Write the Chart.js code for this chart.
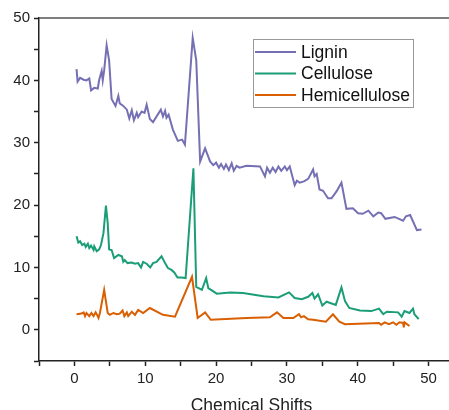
<!DOCTYPE html>
<html>
<head>
<meta charset="utf-8">
<script src="https://cdn.jsdelivr.net/npm/chart.js@4"></script>
<style>
  html, body { margin: 0; padding: 0; overflow: hidden; background: #fff; }
  canvas { display: block; }
</style>
</head>
<body>
<canvas id="chart" width="470" height="425"></canvas>
<script>
const ligninShift = [0.3, 0.45, 0.8, 1.3, 1.7, 2.1, 2.35, 2.8, 3.3, 3.5, 3.85, 4.0, 4.2, 4.55, 4.9, 5.25, 5.8, 6.2, 6.4, 6.9,
  7.4, 7.75, 8.1, 8.4, 8.8, 9.0, 9.5, 9.9, 10.2, 10.65, 11.1, 12.2, 12.5, 12.8, 13.0, 13.3, 13.9, 14.6, 15.2, 15.6,
  16.7, 17.2, 17.75, 18.45, 19.15, 19.6, 20.0, 20.4, 20.7, 21.1, 21.4, 21.8, 22.2, 22.5, 22.9, 23.3, 24.3, 26.2, 26.9, 27.2,
  27.6, 28.0, 28.4, 28.8, 29.2, 29.7, 30.0, 30.4, 31.1, 31.4, 31.8, 32.4, 33.0, 33.7, 33.9, 34.2, 34.6, 35.1, 35.8, 36.3,
  37.0, 37.7, 38.4, 39.3, 40.05, 40.7, 41.5, 42.2, 42.9, 43.3, 43.9, 45.2, 46.4, 46.8, 47.4, 48.35, 49.0];
const ligninValue = [41.8, 39.8, 40.4, 40.1, 40.0, 40.3, 38.4, 38.8, 38.7, 40.1, 41.5, 40.0, 41.6, 45.6, 43.2, 37.0, 35.9, 37.5, 36.3, 35.9,
  35.3, 33.9, 35.2, 33.6, 34.8, 34.1, 35.0, 34.8, 36.1, 33.8, 33.3, 35.3, 34.2, 35.1, 34.0, 34.5, 32.1, 30.3, 30.5, 29.7,
  46.8, 43.2, 27.0, 29.1, 27.0, 26.4, 26.8, 26.0, 26.6, 25.8, 26.5, 25.6, 26.7, 25.5, 26.3, 26.0, 26.3, 26.2, 24.6, 26.0,
  25.2, 26.0, 25.3, 26.2, 25.5, 26.2, 25.6, 26.2, 23.2, 23.9, 23.6, 23.8, 24.2, 25.7, 24.6, 25.0, 22.5, 22.3, 21.1, 21.1,
  22.2, 23.6, 19.4, 19.5, 18.7, 18.6, 19.1, 18.2, 18.8, 18.7, 17.8, 18.1, 17.5, 18.2, 18.4, 16.0, 16.1];

const celluloseShift = [0.3, 0.55, 0.8, 1.1, 1.4, 1.6, 1.9, 2.1, 2.35, 2.7, 2.8, 3.15, 3.5, 3.75, 4.1, 4.45, 4.7, 4.9, 5.25, 5.6,
  6.2, 6.7, 6.9, 7.1, 7.5, 8.1, 8.55, 9.0, 9.4, 9.7, 10.2, 10.7, 11.1, 11.6, 12.3, 12.8, 13.2, 13.7, 14.1, 14.55,
  15.1, 15.7, 16.8, 17.2, 18.0, 18.6, 18.9, 20.1, 22.0, 23.8, 26.7, 28.8, 30.3, 31.1, 32.1, 33.0, 33.6, 33.9, 34.4, 35.0,
  35.6, 36.9, 37.7, 38.2, 38.8, 40.3, 41.9, 43.0, 43.6, 44.1, 45.7, 46.2, 46.6, 47.3, 47.8, 48.0, 48.6];
const celluloseValue = [15.0, 14.0, 14.2, 13.6, 13.8, 13.3, 13.8, 13.1, 13.5, 12.8, 13.4, 12.6, 12.9, 13.6, 15.5, 19.9, 17.1, 12.9, 12.8, 11.5,
  12.0, 11.8, 10.9, 11.2, 10.7, 10.8, 10.6, 10.7, 10.0, 10.9, 10.6, 10.0, 10.7, 10.9, 11.8, 10.7, 9.9, 9.6, 9.2, 8.4,
  8.4, 8.3, 25.9, 6.9, 6.4, 8.3, 6.7, 5.8, 6.0, 5.9, 5.4, 5.2, 6.0, 5.1, 4.9, 5.3, 5.9, 5.0, 5.7, 3.9,
  4.5, 4.0, 6.8, 4.6, 3.5, 3.1, 3.0, 3.4, 2.5, 2.9, 2.8, 2.1, 3.0, 2.7, 3.4, 2.5, 1.7];

const hemiShift = [0.3, 1.0, 1.3, 1.5, 1.7, 2.1, 2.4, 2.7, 3.0, 3.2, 3.4, 3.6, 4.2, 4.7, 5.0, 5.5, 6.0, 6.4, 6.8, 7.05,
  7.4, 7.6, 8.1, 8.55, 9.0, 9.7, 10.65, 12.5, 14.2, 16.6, 17.4, 18.45, 19.25, 24.3, 27.6, 28.6, 29.5, 30.9, 31.7, 32.0,
  32.4, 33.0, 33.7, 35.5, 36.5, 37.4, 38.2, 43.0, 43.3, 43.8, 44.4, 45.0, 45.45, 45.9, 46.4, 46.5, 46.6, 47.3];
const hemiValue = [2.5, 2.6, 2.8, 2.2, 2.7, 2.2, 2.7, 2.2, 2.8, 2.4, 1.9, 2.7, 6.4, 2.7, 2.4, 2.7, 2.5, 2.6, 3.1, 2.2,
  2.8, 2.2, 2.9, 2.4, 3.2, 2.7, 3.5, 2.4, 2.1, 8.5, 1.9, 2.8, 1.6, 1.9, 2.0, 2.8, 1.9, 1.9, 2.5, 2.0,
  2.2, 1.7, 1.6, 1.3, 2.5, 1.3, 0.9, 1.1, 0.8, 1.2, 0.9, 1.2, 0.8, 1.2, 1.1, 0.4, 1.2, 0.6];

const seriesNames = ['Lignin', 'Cellulose', 'Hemicellulose'];
const seriesColors = ['#7570b3', '#1b9e77', '#d95f02'];

const toPoints = (xs, ys) => xs.map((x, i) => ({ x: x, y: ys[i] }));

Chart.defaults.font.family = "'Liberation Sans', Arial, sans-serif";
Chart.defaults.color = '#222';

// frame on top/right + legend box inside the plot
const framePlugin = {
  id: 'frame',
  afterDraw(chart) {
    const { ctx, chartArea: a } = chart;
    ctx.save();
    ctx.strokeStyle = '#555';
    ctx.lineWidth = 1.5;
    ctx.beginPath();
    ctx.moveTo(a.left, a.top);
    ctx.lineTo(a.right, a.top);
    ctx.lineTo(a.right, a.bottom);
    ctx.stroke();

    const bx = 253.5, by = 39.5, bw = 160, bh = 68;
    ctx.fillStyle = '#fff';
    ctx.fillRect(bx, by, bw, bh);
    ctx.strokeStyle = '#999';
    ctx.lineWidth = 1;
    ctx.strokeRect(bx, by, bw, bh);
    ctx.font = "17.5px 'Liberation Sans', Arial, sans-serif";
    ctx.textBaseline = 'middle';
    chart.data.datasets.forEach((ds, i) => {
      const y = 52 + i * 21.5;
      ctx.strokeStyle = ds.borderColor;
      ctx.lineWidth = 2;
      ctx.beginPath();
      ctx.moveTo(255, y);
      ctx.lineTo(296, y);
      ctx.stroke();
      ctx.fillStyle = '#111';
      ctx.fillText(ds.label, 301, y + 1);
    });
    ctx.restore();
  },
};

const tickLabel = v => (v % 10 === 0 && v <= 50 ? v : '');

new Chart(document.getElementById('chart').getContext('2d'), {
  type: 'line',
  data: {
    datasets: [
      { label: seriesNames[0], data: toPoints(ligninShift, ligninValue), borderColor: seriesColors[0] },
      { label: seriesNames[1], data: toPoints(celluloseShift, celluloseValue), borderColor: seriesColors[1] },
      { label: seriesNames[2], data: toPoints(hemiShift, hemiValue), borderColor: seriesColors[2] },
    ],
  },
  options: {
    responsive: false,
    animation: false,
    layout: { padding: { top: 18, right: 6, left: 0, bottom: 0 } },
    plugins: { legend: { display: false }, tooltip: { enabled: false } },
    elements: {
      point: { radius: 0 },
      line: { tension: 0, borderWidth: 2, fill: false },
    },
    scales: {
      x: {
        type: 'linear',
        min: -5,
        max: 55,
        grid: { drawOnChartArea: false, drawTicks: true, tickLength: 5, color: '#222', tickWidth: 1.5 },
        border: { color: '#222', width: 1.5 },
        ticks: { stepSize: 5, autoSkip: false, maxRotation: 0, padding: 4, font: { size: 15 }, callback: tickLabel },
        title: { display: true, text: 'Chemical Shifts', font: { size: 17.5 }, padding: { top: 0, bottom: 8 } },
        afterFit(scale) { scale.height = 64; },
      },
      y: {
        min: -5,
        max: 50,
        grid: { drawOnChartArea: false, drawTicks: true, tickLength: 5, color: '#222', tickWidth: 1.5 },
        border: { color: '#222', width: 1.5 },
        ticks: { stepSize: 5, autoSkip: false, padding: 4, font: { size: 15 }, callback: tickLabel },
        afterFit(scale) { scale.width = 39; },
      },
    },
  },
  plugins: [framePlugin],
});
</script>
</body>
</html>
